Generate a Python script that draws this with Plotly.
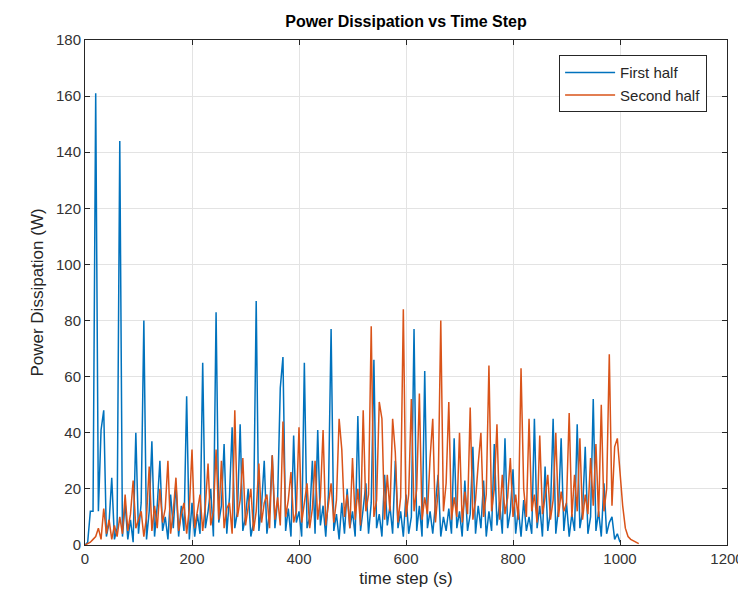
import plotly.graph_objects as go

# time steps (s) for each sampled value
time_first = list(range(0, 1001, 5))
time_second = list(range(0, 1036, 5))

# Power dissipation (W), first half
power_first = [
    0, 1, 12, 12, 161, 12, 41, 48, 3, 8, 24, 2, 6, 144, 3, 15, 2, 9, 1, 40,
    4, 15, 80, 2, 12, 37, 3, 14, 30, 5, 10, 2, 18, 6, 22, 3, 14, 5, 53, 2,
    15, 3, 11, 4, 65, 6, 12, 20, 3, 83, 8, 14, 36, 4, 17, 42, 6, 12, 43, 5,
    10, 20, 3, 8, 87, 5, 14, 30, 4, 12, 32, 6, 16, 56, 67, 5, 13, 3, 39, 8,
    12, 3, 65, 6, 10, 30, 4, 41, 7, 14, 3, 18, 77, 5, 11, 2, 15, 4, 20, 6,
    12, 3, 46, 5, 13, 22, 4, 15, 66, 6, 11, 3, 25, 7, 14, 4, 30, 6, 12, 3,
    18, 4, 10, 77, 5, 14, 3, 62, 6, 12, 4, 16, 25, 3, 10, 5, 13, 4, 38, 6,
    12, 3, 23, 5, 11, 35, 4, 14, 6, 23, 3, 12, 5, 36, 7, 15, 4, 38, 6, 12,
    27, 4, 13, 3, 16, 5, 10, 4, 45, 6, 14, 3, 28, 5, 12, 45, 4, 13, 38, 5,
    15, 3, 11, 5, 43, 6, 12, 35, 4, 10, 52, 5, 12, 3, 22, 4, 8, 10, 2, 4,
    1,
]

# Power dissipation (W), second half
power_second = [
    0, 0.5, 1, 2, 3, 6, 2, 13, 4, 9, 2, 7, 3, 10, 4, 18, 5, 11, 23, 6,
    9, 12, 3, 10, 28, 5, 14, 6, 20, 8, 13, 30, 4, 12, 24, 5, 11, 15, 4, 13,
    34, 6, 12, 18, 5, 14, 29, 7, 12, 34, 9, 30, 6, 13, 15, 4, 48, 10, 16, 31,
    7, 14, 20, 5, 12, 29, 8, 15, 18, 6, 32, 9, 17, 7, 44, 10, 16, 26, 8, 12,
    42, 8, 15, 22, 6, 13, 30, 9, 17, 41, 7, 14, 22, 8, 16, 45, 34, 10, 18, 6,
    31, 9, 20, 7, 48, 12, 18, 78, 10, 16, 51, 45, 9, 25, 12, 45, 33, 8, 17, 84,
    10, 18, 52, 12, 20, 54, 9, 17, 11, 31, 45, 8, 19, 80, 12, 22, 51, 9, 17, 10,
    40, 8, 19, 11, 49, 9, 16, 29, 40, 10, 18, 64, 12, 20, 43, 9, 25, 11, 17, 31,
    10, 18, 9, 63, 20, 10, 45, 12, 18, 8, 39, 11, 17, 25, 9, 16, 40, 10, 19, 12,
    15, 47, 10, 25, 12, 38, 9, 18, 11, 31, 14, 36, 10, 50, 12, 20, 68, 14, 35, 38,
    26, 14, 6, 3, 2, 1.5, 1, 0.5,
]

x_ticks = [0, 200, 400, 600, 800, 1000, 1200]
y_ticks = [0, 20, 40, 60, 80, 100, 120, 140, 160, 180]

axis_color = "#262626"
font_family = "Liberation Sans, Arial, sans-serif"

# the page body has an 8px margin, so the figure is sized to fit the window
W, H = 738, 591
ML, MR, MT, MB = 77, 19, 32, 54

fig = go.Figure()
fig.add_trace(go.Scatter(
    x=time_first, y=power_first, mode="lines", name="First half",
    line=dict(color="#0072BD", width=1.5),
))
fig.add_trace(go.Scatter(
    x=time_second, y=power_second, mode="lines", name="Second half",
    line=dict(color="#D95319", width=1.5),
))

axis_common = dict(
    showline=True, linecolor=axis_color, linewidth=1, mirror="ticks",
    ticks="inside", ticklen=5, tickcolor=axis_color,
    showgrid=True, gridcolor="#E3E3E3", gridwidth=1,
    zeroline=False, automargin=False,
    tickfont=dict(family=font_family, size=15, color="#333333"),
)

fig.update_layout(
    width=W, height=H,
    margin=dict(l=ML, r=MR, t=MT, b=MB),
    paper_bgcolor="white", plot_bgcolor="white",
    title=dict(
        text="<b>Power Dissipation vs Time Step</b>",
        x=(ML + (W - MR)) / 2 / W, xanchor="center", y=1 - 13 / H, yanchor="middle",
        font=dict(family=font_family, size=16, color="black"),
    ),
    xaxis=dict(
        range=[0, 1200], tickvals=x_ticks, ticktext=[str(v) for v in x_ticks],
        title=dict(text="time step (s)", font=dict(family=font_family, size=17, color=axis_color), standoff=6),
        **axis_common,
    ),
    yaxis=dict(
        range=[0, 180], tickvals=y_ticks, ticktext=[str(v) for v in y_ticks],
        title=dict(text="Power Dissipation (W)", font=dict(family=font_family, size=17, color=axis_color), standoff=8),
        **axis_common,
    ),
    legend=dict(
        x=0.969, y=0.970, xanchor="right", yanchor="top",
        bgcolor="white", bordercolor=axis_color, borderwidth=1,
        font=dict(family=font_family, size=15, color=axis_color),
        tracegroupgap=0, itemwidth=50,
    ),
    showlegend=True,
)

fig.write_html("out.html")
